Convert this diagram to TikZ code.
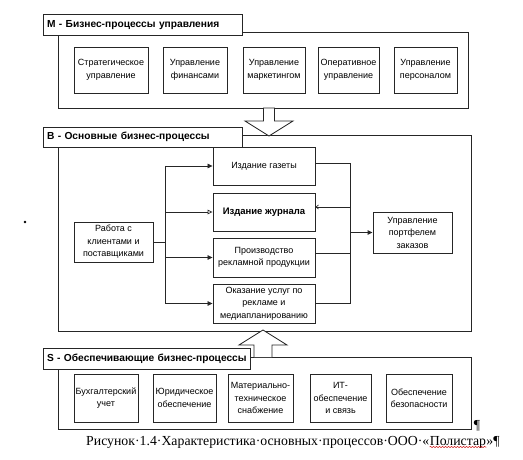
\documentclass[tikz,border=0pt]{standalone}
\usepackage{fontspec}
\setmainfont{Liberation Sans}
\newfontfamily\capfont{Liberation Serif}
\usetikzlibrary{arrows.meta,decorations.pathmorphing}
\tikzset{
  pbox/.style={draw=black!85, line width=0.9pt, fill=white, align=center,
    font=\fontsize{9}{12.5}\selectfont, inner sep=1pt},
  frame/.style={draw=black!85, line width=0.8pt},
  ttl/.style={draw=black!85, line width=0.8pt, fill=white, align=left,
    font=\fontsize{10.2}{12}\selectfont\bfseries, inner xsep=4pt, inner ysep=0pt},
  conn/.style={draw=black!85, line width=0.7pt},
  tipf/.style={-{Triangle[length=5pt,width=4.5pt]}},
  tipo/.style={-{Triangle[open,length=5pt,width=4.5pt]}},
  tipb/.style={-{Straight Barb[length=2.5pt,width=4pt]}},
  bigarrow/.style={draw=black!85, line width=0.8pt, fill=white},
  captxt/.style={font=\capfont\fontsize{13.8}{15}\selectfont, inner sep=0pt}
}
\begin{document}
\begin{tikzpicture}[x=1pt,y=-1pt]
\useasboundingbox[fill=white] (0,0) rectangle (523,460);

% frames
\draw[frame] (58,32) rectangle (468,108);
\draw[frame] (58,135) rectangle (471,331);
\draw[frame] (58,357) rectangle (471,429);

% big arrows
\draw[bigarrow] (263.5,108) -- (274.5,108) -- (274.5,121) -- (293,121) -- (269,136)
  -- (245,121) -- (263.5,121) -- cycle;
\draw[bigarrow] (254,357) -- (254,345) -- (239,345) -- (263,330) -- (287,345)
  -- (272,345) -- (272,357);

% titles
\node[ttl, minimum width=199, minimum height=21, text width=191] (tm) at (142.5,25)
  {\mbox{M - Бизнес-процессы управления}};
\node[ttl, minimum width=199, minimum height=20, text width=191] (tb) at (142.5,137)
  {\mbox{B - Основные бизнес-процессы}};
\node[ttl, minimum width=207, minimum height=21, text width=199] (ts) at (146.5,358.5)
  {\mbox{S - Обеспечивающие бизнес-процессы}};

% M boxes
\node[pbox, minimum width=74, minimum height=46] (m1) at (111,70) {Стратегическое\\управление};
\node[pbox, minimum width=64, minimum height=46] (m2) at (195,70) {Управление\\финансами};
\node[pbox, minimum width=62, minimum height=46] (m3) at (274,70) {Управление\\маркетингом};
\node[pbox, minimum width=61, minimum height=46] (m4) at (348.5,70) {Оперативное\\управление};
\node[pbox, minimum width=63, minimum height=46] (m5) at (425.5,70) {Управление\\персоналом};

% B boxes
\node[pbox, minimum width=102, minimum height=38] (bg) at (264,166) {Издание газеты};
\node[pbox, minimum width=102, minimum height=38, font=\fontsize{9.5}{12}\selectfont\bfseries] (bj) at (264,212) {Издание журнала};
\node[pbox, minimum width=102, minimum height=39] (bp) at (264,257.5) {Производство\\рекламной продукции};
\node[pbox, minimum width=102, minimum height=39] (bo) at (264,303.5) {Оказание услуг по\\рекламе и\\медиапланированию};
\node[pbox, minimum width=79, minimum height=40] (br) at (113.5,242) {Работа с\\клиентами и\\поставщиками};
\node[pbox, minimum width=79, minimum height=41] (bu) at (412.5,232.5) {Управление\\портфелем\\заказов};

% S boxes
\node[pbox, minimum width=64, minimum height=48] (s1) at (106,398) {Бухгалтерский\\учет};
\node[pbox, minimum width=63, minimum height=48] (s2) at (184.5,398) {Юридическое\\обеспечение};
\node[pbox, minimum width=65, minimum height=48] (s3) at (260.5,398) {Материально-\\техническое\\снабжение};
\node[pbox, minimum width=61, minimum height=48] (s4) at (340.5,398) {ИТ-\\обеспечение\\и связь};
\node[pbox, minimum width=66, minimum height=48] (s5) at (419,398) {Обеспечение\\безопасности};

% left bus
\coordinate (jl) at (165,242);
\coordinate (lt) at (165,166);
\coordinate (lb) at (165,303.5);
\draw[conn, line width=1pt] (br.east) -- (jl);
\draw[conn] (lt) -- (lb);
\draw[conn, tipf] (lt) -- (bg.west);
\draw[conn, tipo] (bj.west -| lt) -- (bj.west);
\draw[conn, tipf] (bp.west -| lt) -- (bp.west);
\draw[conn, tipf] (lb) -- (bo.west);

% right bus
\coordinate (rt) at (350,163);
\coordinate (rb) at (350,303.5);
\coordinate (rj) at (350,232.5);
\draw[conn] ([yshift=3pt]bg.east) -- (rt) -- (rb) -- (bo.east);
\draw[conn, tipb] (rt |- 0,207) -- ([yshift=5pt]bj.east);
\draw[conn] ([yshift=4.5pt]bp.east) -- (rt |- 0,253);
\draw[conn, line width=1pt, tipf] (rj) -- (bu.west);

% formatting marks
\fill[black] (25,222) circle (1.3pt);
\node[captxt, anchor=base] (pil) at (477,429) {¶};

% caption
\node[captxt, anchor=base west] (c1) at (86,445) {Рисунок·1.4·Характеристика·основных·процессов·ООО·«};
\node[captxt, anchor=base west] (c2) at (c1.base east) {Полистар};
\node[captxt, anchor=base west] (c3) at (c2.base east) {»¶};
\draw[red!80!black, line width=0.5pt, decorate,
  decoration={snake, amplitude=0.6pt, segment length=3pt}]
  ([yshift=-2pt]c2.base west) -- ([yshift=-2pt]c2.base east);
\end{tikzpicture}
\end{document}
